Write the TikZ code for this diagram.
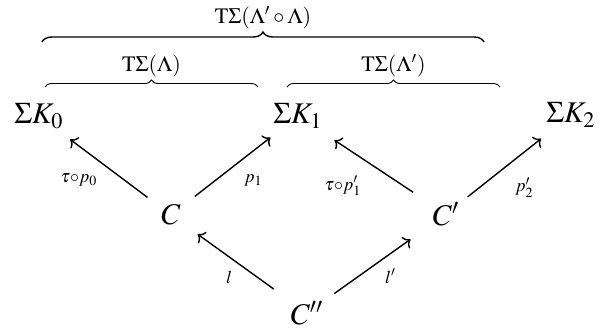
\documentclass[tikz,border=0pt]{standalone}
\usepackage{amsmath}
\usepackage{mathptmx}
\usepackage{tikz}
\usetikzlibrary{arrows.meta,positioning,decorations.pathreplacing}

\begin{document}
\begin{tikzpicture}[
  x=0.5pt, y=-0.5pt,
  obj/.style={inner sep=2pt, font=\fontsize{15}{17}\selectfont},
  lbl/.style={font=\fontsize{9}{10}\selectfont, inner sep=0pt},
  top/.style={font=\fontsize{11}{13}\selectfont, inner sep=3pt},
  arr/.style={->, line width=0.7pt},
  brc/.style={decorate, decoration={brace, amplitude=#1}},
  >={To[length=3.2pt, width=7pt]}
]
  \useasboundingbox (0,0) rectangle (599,329);

  \node[obj] (K0) at (39,116) {$\Sigma K_0$};
  \node[obj] (K1) at (298,116) {$\Sigma K_1$};
  \node[obj] (K2) at (571,115) {$\Sigma K_2$};
  \node[obj] (C)  at (171,215) {$C$};
  \node[obj] (Cp) at (446,214) {$C'$};
  \node[obj] (Cpp) at (307,313) {$C''$};

  \draw[arr, shorten <=14.7pt, shorten >=19.5pt] (C.center) -- node[lbl, shift={(-26,14)}]{$\tau{\circ}p_0$} (K0.center);
  \draw[arr, shorten <=15.1pt, shorten >=17.5pt] (C.center) -- node[lbl, shift={(19,15)}]{$p_1$} (K1.center);
  \draw[arr, shorten <=19.7pt, shorten >=21.9pt] (Cp.center) -- node[lbl, shift={(-29,21)}]{$\tau{\circ}p'_1$} (K1.center);
  \draw[arr, shorten <=13.8pt, shorten >=19.1pt] (Cp.center) -- node[lbl, shift={(16,23)}]{$p'_2$} (K2.center);
  \draw[arr, shorten <=20.4pt, shorten >=16.4pt] (Cpp.center) -- node[lbl, shift={(-10,13)}]{$l$} (C.center);
  \draw[arr, shorten <=16.7pt, shorten >=21.8pt] (Cpp.center) -- node[lbl, shift={(14,13)}]{$l'$} (Cp.center);

  \coordinate (a0) at (45,87);
  \coordinate (a1) at (258,87);
  \coordinate (b0) at (287,87);
  \coordinate (b1) at (500,87);
  \coordinate (c0) at (42,42);
  \coordinate (c1) at (484,42);

  \draw[brc=3.5pt, line width=0.45pt] (a0) -- node[top, above=2pt]{$\mathrm{T}\Sigma(\Lambda)$} (a1);
  \draw[brc=3.5pt, line width=0.45pt] (b0) -- node[top, above=2pt]{$\mathrm{T}\Sigma(\Lambda')$} (b1);
  \draw[brc=5pt, line width=0.7pt] (c0) -- node[top, above=3pt]{$\mathrm{T}\Sigma(\Lambda'\circ\Lambda)$} (c1);
\end{tikzpicture}
\end{document}
